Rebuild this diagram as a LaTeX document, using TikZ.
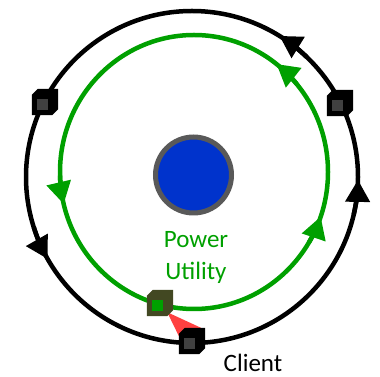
\documentclass[tikz,border=0pt]{standalone}
\usepackage{fontspec}
\setmainfont{Carlito}
\usetikzlibrary{arrows.meta,calc}
\definecolor{ringgreen}{RGB}{0,160,0}
\definecolor{coreblue}{RGB}{0,51,204}
\definecolor{coregray}{RGB}{89,89,89}
\definecolor{olivebox}{RGB}{66,72,34}
\definecolor{linkred}{RGB}{255,64,64}
\definecolor{facegray}{RGB}{64,64,64}
% chamfered device body: #1 node name, #2 fill colour
\newcommand\devbody[2]{%
  \fill[#2] (#1.south west) -- ($(#1.north west)+(0,-6)$) -- ($(#1.north west)+(6,0)$)
    -- (#1.north east) -- ($(#1.south east)+(0,6)$) -- ($(#1.south east)+(-6,0)$) -- cycle;}
\begin{document}
\begin{tikzpicture}[x=1pt,y=1pt,
  ring/.style={line width=4.5pt},
  flowtip/.style={ring, -{Triangle[length=22pt,width=24pt]}},
  devbox/.style={rectangle, minimum width=26pt, minimum height=26pt, inner sep=0pt, draw=none},
  devface/.style={rectangle, minimum size=11pt, inner sep=0pt, draw=none},
  label/.style={font=\fontsize{25}{32}\selectfont, inner sep=0pt}]
\useasboundingbox (0,0) rectangle (380,377);

\coordinate (hub) at (192,200);
\coordinate (ghub) at (194,205);

% client ring, drawn counter-clockwise with three flow arrows
\draw[ring, black] (hub) circle[radius=166];
\foreach \a in {58.2, 359, 209.6}
  \draw[flowtip, black] (hub) ++(\a-12:166) arc[start angle=\a-12, end angle=\a, radius=166];

% utility ring
\draw[ring, ringgreen] (ghub) ellipse[x radius=134, y radius=137];
\foreach \a in {52, 341, 193.5}
  \draw[flowtip, ringgreen] (ghub) ++(\a-12:134 and 137) arc[start angle=\a-12, end angle=\a, x radius=134, y radius=137];

% power utility core
\node[circle, fill=coreblue, draw=coregray, line width=5pt, minimum size=76pt, inner sep=0pt] (core) at (193.5,202) {};

% devices on the rings
\node[devbox] (gdev) at (160,74) {};
\node[devbox] (cdev) at (192,36) {};
\node[devbox] (dleft) at (45,275) {};
\node[devbox] (dright) at (340,274) {};

% link from the utility device to the client device
\fill[linkred] ($(gdev.south east)+(-6,4)$) -- ($(cdev.west)+(0,5)$) -- ($(cdev.north)+(9,0)$) -- cycle;

\devbody{gdev}{olivebox}
\node[devface, fill=ringgreen] (gface) at ($(gdev.center)+(-3,-3)$) {};
\devbody{cdev}{black}
\node[devface, fill=facegray] (cface) at ($(cdev.center)+(-3,-3)$) {};
\devbody{dleft}{black}
\node[devface, fill=facegray] (dleftface) at ($(dleft.center)+(-3,-3)$) {};
\devbody{dright}{black}
\node[devface, fill=facegray] (drightface) at ($(dright.center)+(-3,-3)$) {};

% labels
\node[label, text=ringgreen, align=center, anchor=base] (utility) at (196,97) {Power\\Utility};
\node[label, anchor=base] (client) at (253,5) {Client};
\end{tikzpicture}
\end{document}
